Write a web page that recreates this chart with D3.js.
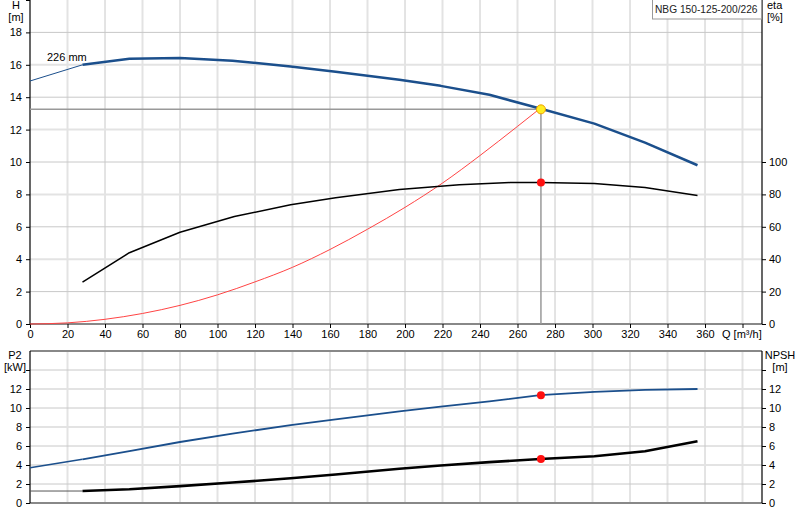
<!DOCTYPE html>
<html><head><meta charset="utf-8">
<script src="https://cdn.jsdelivr.net/npm/d3@7"></script>
<style>
body{margin:0;background:#fff;}
svg{display:block;font-family:"Liberation Sans",Arial,sans-serif;font-size:11px;}
</style></head>
<body>
<svg id="c" width="800" height="520"></svg>
<script>
// ---- data ----
const xTicks = [0,20,40,60,80,100,120,140,160,180,200,220,240,260,280,300,320,340,360];
const hTicks = [0,2,4,6,8,10,12,14,16,18];
const etaTicks = [0,20,40,60,80,100];
const p2Ticks = [0,2,4,6,8,10,12];
const npshTicks = [0,2,4,6,8,10,12];

const headExtQ = [0, 28];
const headExtH = [15.0, 16.0];
const headQ = [28, 53, 80, 108, 139, 163, 197, 219, 245, 272, 301, 328, 356];
const headH = [16.0, 16.37, 16.42, 16.25, 15.9, 15.57, 15.08, 14.7, 14.15, 13.3, 12.37, 11.2, 9.8];

const etaQ = [28, 53, 80, 109, 139, 163, 197, 229, 256, 272, 301, 328, 356];
const etaV = [25.8, 44.0, 56.6, 66.3, 73.6, 78.0, 83.0, 86.0, 87.3, 87.4, 86.8, 84.2, 79.3];

const sysQ = [0, 20, 40, 60, 80, 100, 120, 140, 160, 180, 200, 220, 240, 260, 272];
const sysH = [0, 0.07, 0.29, 0.65, 1.15, 1.8, 2.6, 3.5, 4.6, 5.85, 7.2, 8.7, 10.4, 12.2, 13.3];

const p2ExtQ = [0, 28];
const p2ExtV = [3.7, 4.6];
const p2Q = [28, 53, 80, 108, 139, 163, 197, 219, 245, 272, 301, 328, 356];
const p2V = [4.6, 5.45, 6.42, 7.3, 8.2, 8.8, 9.65, 10.15, 10.7, 11.35, 11.7, 11.9, 12.0];

const npshExtQ = [0, 28];
const npshExtV = [1.26, 1.26];
const npshQ = [28, 53, 80, 108, 139, 163, 197, 219, 245, 272, 301, 328, 356];
const npshV = [1.26, 1.45, 1.78, 2.15, 2.6, 3.0, 3.6, 3.95, 4.3, 4.63, 4.92, 5.45, 6.5];

const duty = {q: 272.5, h: 13.25, eta: 87.4, p2: 11.35, npsh: 4.63};
const curveLabel = "226 mm";
const pumpName = "NBG 150-125-200/226";

// ---- scales ----
const svg = d3.select("#c");
const L = 30, R = 762;
const x = d3.scaleLinear().domain([0, 390]).range([L, 761.25]);
const yH = d3.scaleLinear().domain([0, 20]).range([324, 0]);
const yEta = d3.scaleLinear().domain([0, 200]).range([324, 0]);
const yP = d3.scaleLinear().domain([0, 16]).range([503, 351]);

const dark = "#c8c8c8", light = "#e3e3e3";
const gridX = d3.range(20, 381, 20);

function grid(g, yScale, yVals, y0, y1) {
  g.selectAll(".gx").data(gridX).join("line")
    .attr("x1", d => x(d)).attr("x2", d => x(d)).attr("y1", y0).attr("y2", y1)
    .attr("stroke", d => (d % 40 === 0 ? dark : light)).attr("stroke-width", d => (d % 40 === 0 ? 1 : 2));
  g.selectAll(".gy").data(yVals).join("line")
    .attr("x1", L).attr("x2", R).attr("y1", d => yScale(d)).attr("y2", d => yScale(d))
    .attr("stroke", d => (d % 4 === 2 ? dark : light)).attr("stroke-width", d => (d % 4 === 2 ? 1 : 2));
}

const gTop = svg.append("g");
grid(gTop, yH, [2,4,6,8,10,12,14,16,18], 0, 324);
const gBot = svg.append("g");
grid(gBot, yP, [2,4,6,8,10,12,14], 351, 503);

// axes frames
svg.append("line").attr("x1", L).attr("x2", R).attr("y1", 324).attr("y2", 324).attr("stroke", "#888").attr("stroke-width", 2);
svg.append("line").attr("x1", L).attr("x2", R).attr("y1", 351).attr("y2", 351).attr("stroke", "#888").attr("stroke-width", 2);
svg.append("line").attr("x1", L).attr("x2", R).attr("y1", 503).attr("y2", 503).attr("stroke", "#888").attr("stroke-width", 2);

function styleAxis(g) {
  g.select(".domain").remove();
  g.selectAll(".tick line").attr("stroke", "#000");
  g.selectAll(".tick text").attr("fill", "#000").style("font-size", "11px").style("font-family", "Liberation Sans, Arial, sans-serif");
}

// top chart axes
svg.append("g").attr("transform", "translate(" + L + ",0)")
  .call(d3.axisLeft(yH).tickValues(hTicks.concat([20])).tickSize(4).tickPadding(4).tickFormat(d => d === 20 ? "" : d))
  .call(styleAxis);
svg.append("g").attr("transform", "translate(" + R + ",0)")
  .call(d3.axisRight(yEta).tickValues(etaTicks).tickSize(4).tickPadding(3))
  .call(styleAxis);
svg.append("g").attr("transform", "translate(0,324)")
  .call(d3.axisBottom(x).tickValues(xTicks.concat([380])).tickSize(4).tickPadding(2).tickFormat(d => d === 380 ? "" : d))
  .call(styleAxis);
// bottom chart axes
svg.append("g").attr("transform", "translate(" + L + ",0)")
  .call(d3.axisLeft(yP).tickValues(p2Ticks.concat([14])).tickSize(4).tickPadding(4).tickFormat(d => d === 14 ? "" : d))
  .call(styleAxis);
svg.append("g").attr("transform", "translate(" + R + ",0)")
  .call(d3.axisRight(yP).tickValues(npshTicks.concat([14])).tickSize(4).tickPadding(3).tickFormat(d => d === 14 ? "" : d))
  .call(styleAxis);

// vertical axis lines
[[L,0,324],[R,0,324],[L,351,503],[R,351,503]].forEach(a => {
  svg.append("line").attr("x1", a[0]).attr("x2", a[0]).attr("y1", a[1]).attr("y2", a[2]).attr("stroke", "#000").attr("stroke-width", 1.2);
});

// axis titles
const t = (txt, xx, yy, anchor) => svg.append("text").attr("x", xx).attr("y", yy).attr("text-anchor", anchor || "middle").attr("fill", "#000").text(txt);
t("H", 16, 9); t("[m]", 16, 21);
t("eta", 767, 9, "start"); t("[%]", 767, 21, "start");
t("P2", 15, 359); t("[kW]", 15, 371);
t("NPSH", 780, 359); t("[m]", 780, 371);
t("Q [m\u00b3/h]", 722, 338, "start");

// duty lines
svg.append("line").attr("x1", L).attr("x2", x(duty.q)).attr("y1", yH(duty.h)).attr("y2", yH(duty.h)).attr("stroke", "#999").attr("stroke-width", 1.5);
svg.append("line").attr("x1", x(duty.q)).attr("x2", x(duty.q)).attr("y1", yH(duty.h)).attr("y2", 324).attr("stroke", "#999").attr("stroke-width", 1.5);

// curves
function path(xs, ys, ysc, color, w, curve) {
  const gen = d3.line().x((d, i) => x(xs[i])).y((d, i) => ysc(ys[i])).curve(curve || d3.curveLinear);
  svg.append("path").attr("d", gen(xs)).attr("fill", "none").attr("stroke", color).attr("stroke-width", w).attr("stroke-linejoin", "round");
}
const blue = "#1b4f8c";
path(sysQ, sysH, yH, "#ff4444", 1, d3.curveMonotoneX);
path(etaQ, etaV, yEta, "#000", 1.5);
path(headExtQ, headExtH, yH, blue, 1);
path(headQ, headH, yH, blue, 2.5);
path(p2ExtQ, p2ExtV, yP, blue, 1.5);
path(p2Q, p2V, yP, blue, 1.8);
path(npshExtQ, npshExtV, yP, "#555", 1);
path(npshQ, npshV, yP, "#000", 2.6);

// points
svg.append("circle").attr("cx", x(duty.q)).attr("cy", yH(duty.h)).attr("r", 4.5).attr("fill", "#ffee22").attr("stroke", "#f0a000").attr("stroke-width", 1);
[[duty.eta, yEta], [duty.p2, yP], [duty.npsh, yP]].forEach(p => {
  svg.append("circle").attr("cx", x(duty.q)).attr("cy", p[1](p[0])).attr("r", 4).attr("fill", "#ff1010");
});

// curve label
t(curveLabel, 47, 61, "start");

// legend box
svg.append("rect").attr("x", 652.5).attr("y", -1).attr("width", 109).attr("height", 20).attr("fill", "#fff").attr("stroke", "#999");
t(pumpName, 655, 13, "start").attr("fill", "#222").style("font-size", "10.2px");
</script>
</body></html>
